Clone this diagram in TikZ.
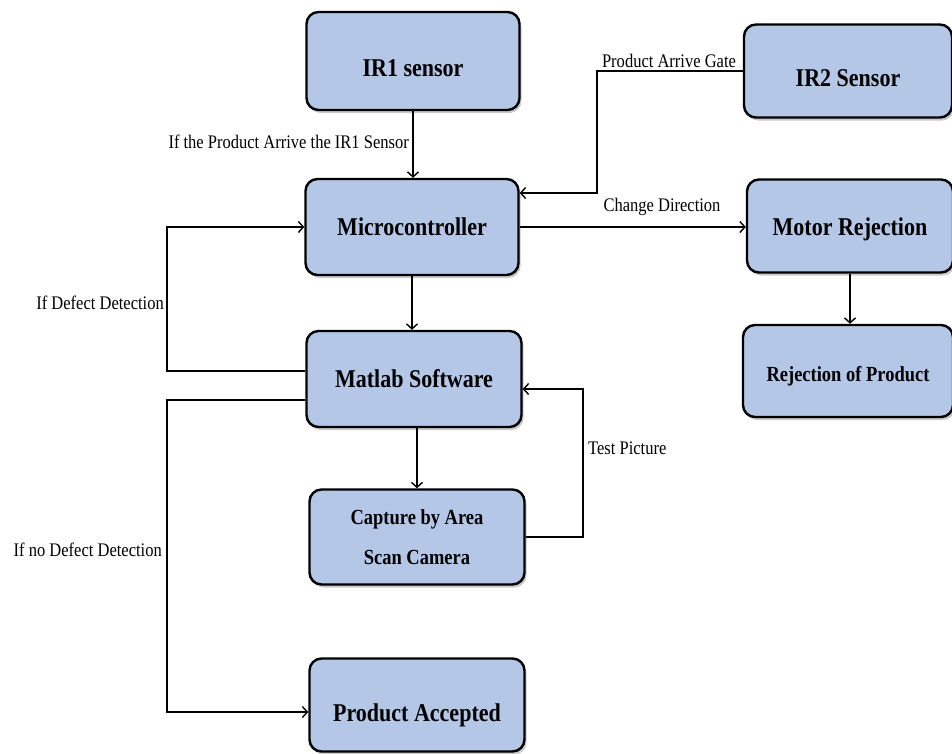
\documentclass[tikz,border=0pt]{standalone}
\usepackage{fontspec}
\setmainfont{Liberation Serif}[FakeStretch=0.86]
\usetikzlibrary{arrows.meta,shadows}
\definecolor{boxblue}{HTML}{B4C7E7}
\newcommand{\lowr}[2]{\raisebox{-#1}[\height][\depth]{#2}}
\begin{document}
\begin{tikzpicture}[x=1pt,y=-1pt,
  box/.style={draw=black,line width=2.4pt,rounded corners=12pt,fill=boxblue,
    drop shadow={shadow xshift=2pt,shadow yshift=-3pt,opacity=0.35,fill=black!60},
    inner sep=0pt,align=center,font=\fontsize{25.6}{30}\selectfont\bfseries},
  sbox/.style={box,font=\fontsize{21.5}{40}\selectfont\bfseries},
  conn/.style={line width=1.4pt,-{Straight Barb[length=5pt,width=11pt]}},
  lbl/.style={font=\fontsize{19.2}{22}\selectfont,inner sep=1pt}]
\useasboundingbox (0,0) rectangle (952,753);

\node[box,minimum width=213pt,minimum height=98pt] (ir1) at (413,61) {\lowr{7pt}{IR1 sensor}};
\node[box,minimum width=213pt,minimum height=96pt] (micro) at (412,227) {Microcontroller};
\node[box,minimum width=215pt,minimum height=96pt] (matlab) at (414,379) {Matlab Software};
\node[sbox,minimum width=215pt,minimum height=95pt] (capture) at (417,537) {Capture by Area\\Scan Camera};
\node[box,minimum width=215pt,minimum height=93pt] (accepted) at (417,705) {\lowr{10pt}{Product Accepted}};
\node[box,minimum width=208pt,minimum height=93pt] (ir2) at (848,71) {\lowr{7pt}{IR2 Sensor}};
\node[box,minimum width=206pt,minimum height=93pt] (motor) at (850,226) {\lowr{3pt}{Motor Rejection}};
\node[sbox,minimum width=210pt,minimum height=92pt] (reject) at (848,371) {\lowr{5pt}{Rejection of Product}};

% IR1 -> micro
\draw[conn] (ir1.south) -- (ir1.south |- micro.north);
\node[lbl,anchor=east] (l1) at (410,142) {If the Product Arrive the IR1 Sensor};

% IR2 -> micro
\coordinate (g) at (597,193);
\draw[conn] (ir2.west) -| (g) -- (micro.east |- g);
\node[lbl,anchor=south] (l2) at (669,69) {Product Arrive Gate};

% micro -> motor
\draw[conn] (micro.east) -- (motor.west |- micro.east);
\node[lbl] (l3) at (662,207) {Change Direction};

% motor -> reject
\draw[conn] (motor.south) -- (motor.south |- reject.north);

% micro -> matlab
\draw[conn] (micro.south) -- (micro.south |- matlab.north);

% matlab -> micro (defect)
\coordinate (d1) at (167,371);
\draw[conn] (matlab.west |- d1) -- (d1) |- (micro.west);
\node[lbl,anchor=east] (l4) at (165,303) {If Defect Detection};

% matlab -> accepted (no defect)
\coordinate (d2) at (167,400);
\draw[conn] (matlab.west |- d2) -- (d2) |- ([yshift=-7pt]accepted.west);
\node[lbl,anchor=east] (l5) at (163,550) {If no Defect Detection};

% matlab -> capture
\draw[conn] (capture.north |- matlab.south) -- (capture.north);

% capture -> matlab
\coordinate (t) at (583,389);
\draw[conn] (capture.east) -| (t) -- (matlab.east |- t);
\node[lbl,anchor=west] (l6) at (587,448) {Test Picture};
\end{tikzpicture}
\end{document}
